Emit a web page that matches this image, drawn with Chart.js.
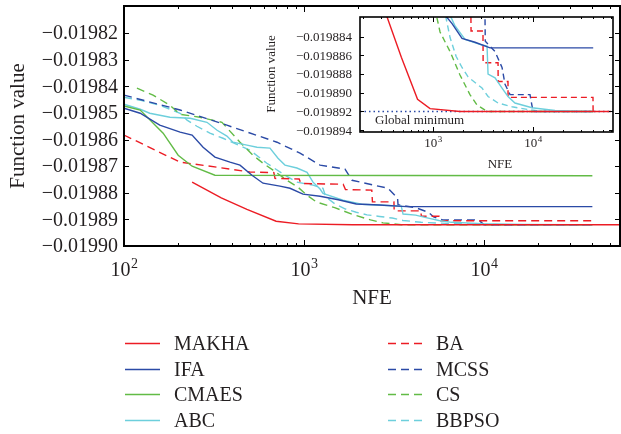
<!DOCTYPE html>
<html>
<head>
<meta charset="utf-8">
<script src="https://cdn.jsdelivr.net/npm/chart.js@4.4.1/dist/chart.umd.min.js"></script>
<style>
  body { margin: 0; background: #fff; }
  #wrap { position: relative; width: 621px; height: 434px; overflow: hidden; }
  #main { position: absolute; left: 0; top: 0; }
  #inset { position: absolute; left: 250px; top: 0; }
  .leg { position: absolute; font: 20px "Liberation Serif", "Times New Roman", serif; color: #231f20; line-height: 20px; }
  .leg svg { position: absolute; left: 0; top: 9px; }
  .leg span { position: absolute; white-space: nowrap; }
</style>
</head>
<body>
<div id="wrap">
  <canvas id="main" width="621" height="434"></canvas>
  <canvas id="inset" width="371" height="180"></canvas>
  <div id="legend"></div>
</div>
<script>
// valeurs : [NFE, valeur de la fonction]
const MAKHA = [[239,-0.019876],[347,-0.0198819],[482,-0.0198862],[700,-0.0198907],[933,-0.0198917],[1860,-0.019892],[60000,-0.019892]];
const IFA = [[100,-0.0198482],[123,-0.0198501],[158,-0.0198546],[205,-0.0198572],[239,-0.0198583],[275,-0.0198629],[320,-0.0198666],[388,-0.0198685],[441,-0.0198696],[514,-0.0198734],[592,-0.0198764],[735,-0.0198775],[836,-0.0198783],[987,-0.0198805],[1228,-0.0198813],[1550,-0.0198826],[1950,-0.0198842],[2630,-0.0198846],[3715,-0.0198852],[40000,-0.0198852]];
const CMAES = [[100,-0.0198474],[123,-0.0198489],[165,-0.0198576],[200,-0.0198659],[239,-0.01987],[320,-0.0198734],[40000,-0.0198736]];
const ABC = [[100,-0.0198467],[123,-0.0198486],[139,-0.0198501],[180,-0.0198516],[233,-0.019852],[289,-0.0198535],[329,-0.0198565],[373,-0.0198587],[403,-0.019861],[482,-0.0198621],[548,-0.0198629],[647,-0.0198632],[717,-0.019867],[784,-0.0198696],[913,-0.0198707],[1040,-0.0198723],[1122,-0.019876],[1228,-0.0198786],[1275,-0.0198802],[1648,-0.0198828],[2090,-0.0198843],[3090,-0.0198849],[3470,-0.019885],[3550,-0.019888],[4170,-0.0198884],[4900,-0.0198895],[5620,-0.0198904],[6600,-0.0198911],[9770,-0.0198916],[16600,-0.0198919],[30900,-0.019892],[40000,-0.019892]];
const BA = [[100,-0.0198583],[205,-0.0198685],[330,-0.0198704],[500,-0.0198722],[680,-0.0198724],[690,-0.0198746],[940,-0.0198748],[960,-0.0198765],[1650,-0.0198768],[1700,-0.0198788],[2380,-0.019879],[2400,-0.0198834],[3160,-0.0198834],[3170,-0.0198868],[4470,-0.0198868],[4480,-0.0198888],[5620,-0.0198888],[5630,-0.0198905],[39800,-0.0198905],[39900,-0.019892]];
const MCSS = [[100,-0.0198433],[205,-0.0198489],[373,-0.0198546],[708,-0.019861],[950,-0.0198651],[1228,-0.0198696],[1690,-0.0198711],[1848,-0.0198753],[2930,-0.0198783],[3310,-0.019882],[3330,-0.0198845],[4170,-0.0198856],[4900,-0.0198873],[5250,-0.0198891],[5890,-0.0198902],[9330,-0.0198902],[10000,-0.019892],[40000,-0.019892]];
const CS = [[118,-0.0198407],[145,-0.0198433],[180,-0.0198471],[205,-0.0198505],[264,-0.0198516],[350,-0.0198535],[441,-0.019861],[521,-0.0198659],[592,-0.0198689],[673,-0.0198715],[805,-0.0198753],[926,-0.0198779],[1040,-0.0198809],[1175,-0.0198835],[1480,-0.0198856],[1860,-0.0198881],[2340,-0.0198902],[2750,-0.0198913],[3470,-0.019892],[40000,-0.019892]];
const BBPSO = [[100,-0.0198441],[123,-0.0198452],[158,-0.0198471],[205,-0.0198501],[224,-0.0198527],[254,-0.019855],[300,-0.0198576],[355,-0.0198595],[501,-0.019864],[622,-0.0198689],[784,-0.0198734],[913,-0.019876],[1122,-0.0198771],[1275,-0.0198783],[1320,-0.0198815],[1480,-0.0198841],[1700,-0.0198861],[1950,-0.0198873],[2240,-0.0198883],[2630,-0.0198889],[3090,-0.0198895],[3550,-0.0198904],[4470,-0.0198911],[6170,-0.0198915],[8910,-0.0198918],[12300,-0.019892],[40000,-0.019892]];
const GLOBAL_MIN = -0.019892;

const mainYTicks = [-0.01990,-0.01989,-0.01988,-0.01987,-0.01986,-0.01985,-0.01984,-0.01983,-0.01982];
const mainXTicks = [2, 3, 4];  // exposants des décades
const insetYTicks = [-0.019894,-0.019892,-0.019890,-0.019888,-0.019886,-0.019884];
const insetXTicks = [3, 4];

const RED = '#ec1c24', BLUE = '#2b4aa6', GREEN = '#62bb46', CYAN = '#6dcfdc';
const series = [
  { nom: 'MAKHA', pts: MAKHA, cor: RED, dash: false },
  { nom: 'IFA', pts: IFA, cor: BLUE, dash: false },
  { nom: 'CMAES', pts: CMAES, cor: GREEN, dash: false },
  { nom: 'ABC', pts: ABC, cor: CYAN, dash: false },
  { nom: 'BA', pts: BA, cor: RED, dash: true },
  { nom: 'MCSS', pts: MCSS, cor: BLUE, dash: true },
  { nom: 'CS', pts: CS, cor: GREEN, dash: true },
  { nom: 'BBPSO', pts: BBPSO, cor: CYAN, dash: true }
];

const FONT = '"Liberation Serif", "Times New Roman", serif';

function criarDatasets(dash) {
  return series.map(s => ({
    label: s.nom,
    data: s.pts.map(p => ({ x: p[0], y: p[1] })),
    borderColor: s.cor,
    borderWidth: 1.4,
    borderDash: s.dash ? dash : [],
    pointRadius: 0,
    tension: 0,
    fill: false
  }));
}

function fmt(v, d) { return v.toFixed(d).replace('-', '\u2212'); }

// cadre, graduations et textes dessinés à partir des échelles
function moldura(cfg) {
  return {
    id: 'moldura',
    beforeDraw(chart) {
      const { ctx, chartArea: a } = chart;
      ctx.save();
      ctx.fillStyle = '#fff';
      ctx.fillRect(a.left, a.top, a.right - a.left, a.bottom - a.top);
      ctx.restore();
    },
    afterDraw(chart) {
      const { ctx, chartArea: a, scales: { x, y } } = chart;
      ctx.save();
      ctx.strokeStyle = '#000';
      ctx.fillStyle = '#231f20';
      ctx.lineWidth = cfg.lw;
      const seg = (x1, y1, x2, y2) => { ctx.beginPath(); ctx.moveTo(x1, y1); ctx.lineTo(x2, y2); ctx.stroke(); };

      ctx.lineWidth = 1;
      cfg.yTicks.forEach(v => {
        const p = Math.round(y.getPixelForValue(v)) + 0.5;
        seg(a.left, p, a.left + cfg.tick, p);
        seg(a.right, p, a.right - cfg.tick, p);
      });
      for (let e = 1; e <= 5; e++) {
        for (let m = 1; m <= 9; m++) {
          const v = m * Math.pow(10, e);
          if (v < x.min || v > x.max) continue;
          const p = Math.round(x.getPixelForValue(v)) + 0.5;
          const len = m === 1 ? cfg.tick + 1 : cfg.minor;
          seg(p, a.bottom, p, a.bottom - len);
          seg(p, a.top, p, a.top + len);
        }
      }
      ctx.lineWidth = cfg.lw;
      ctx.strokeRect(a.left, a.top, a.right - a.left, a.bottom - a.top);

      // rótulos do eixo y
      ctx.font = cfg.fs + 'px ' + FONT;
      ctx.textAlign = 'right';
      ctx.textBaseline = 'middle';
      cfg.yTicks.forEach(v => ctx.fillText(fmt(v, cfg.dec), a.left - cfg.ypad, y.getPixelForValue(v) + 1));

      // rótulos do eixo x : 10 com expoente
      ctx.textBaseline = 'alphabetic';
      ctx.textAlign = 'left';
      cfg.xTicks.forEach(e => {
        const p = x.getPixelForValue(Math.pow(10, e));
        ctx.font = cfg.fs + 'px ' + FONT;
        const w1 = ctx.measureText('10').width;
        ctx.font = Math.round(cfg.fs * 0.68) + 'px ' + FONT;
        const w2 = ctx.measureText(String(e)).width;
        const x0 = p - (w1 + w2) / 2;
        ctx.font = cfg.fs + 'px ' + FONT;
        ctx.fillText('10', x0, cfg.xBase);
        ctx.font = Math.round(cfg.fs * 0.68) + 'px ' + FONT;
        ctx.fillText(String(e), x0 + w1 + 0.5, cfg.xBase - cfg.fs * 0.42);
      });

      // títulos
      ctx.font = cfg.tfs + 'px ' + FONT;
      ctx.textAlign = 'center';
      ctx.fillText('NFE', cfg.nfe[0], cfg.nfe[1]);
      ctx.save();
      ctx.translate(cfg.ytit[0], cfg.ytit[1]);
      ctx.rotate(-Math.PI / 2);
      ctx.textBaseline = 'middle';
      ctx.fillText('Function value', 0, 0);
      ctx.restore();

      if (cfg.gmin) {
        ctx.font = cfg.fs + 'px ' + FONT;
        ctx.textAlign = 'left';
        ctx.fillText('Global minimum', a.left + 15, y.getPixelForValue(GLOBAL_MIN) + 13);
      }
      ctx.restore();
    }
  };
}

function criarGraficoPrincipal() {
  new Chart(document.getElementById('main'), {
    type: 'line',
    data: { datasets: criarDatasets([8, 5]) },
    options: {
      responsive: false,
      animation: false,
      layout: { padding: { left: 124, top: 6, right: 1, bottom: 188 } },
      plugins: { legend: { display: false }, tooltip: { enabled: false } },
      scales: {
        x: { type: 'logarithmic', min: 100, max: 56960, display: false },
        y: { type: 'linear', min: -0.0199, max: -0.0198098, display: false }
      }
    },
    plugins: [moldura({
      lw: 2, tick: 5, minor: 3, fs: 20, tfs: 21, dec: 5, ypad: 6,
      yTicks: mainYTicks, xTicks: mainXTicks, xBase: 276,
      nfe: [372, 304], ytit: [18, 126], gmin: false
    })]
  });
}

function criarInset() {
  const ds = criarDatasets([6, 4]);
  ds.push({
    label: 'Global minimum',
    data: [{ x: 186, y: GLOBAL_MIN }, { x: 63100, y: GLOBAL_MIN }],
    borderColor: BLUE,
    borderWidth: 1.5,
    borderDash: [1.5, 3],
    pointRadius: 0
  });
  new Chart(document.getElementById('inset'), {
    type: 'line',
    data: { datasets: ds },
    options: {
      responsive: false,
      animation: false,
      layout: { padding: { left: 110, top: 17, right: 8, bottom: 48 } },
      plugins: { legend: { display: false }, tooltip: { enabled: false } },
      scales: {
        x: { type: 'logarithmic', min: 186, max: 63100, display: false },
        y: { type: 'linear', min: -0.0198942, max: -0.0198819, display: false }
      }
    },
    plugins: [moldura({
      lw: 1.6, tick: 4, minor: 2, fs: 13, tfs: 13, dec: 6, ypad: 8,
      yTicks: insetYTicks, xTicks: insetXTicks, xBase: 147,
      nfe: [250, 168], ytit: [22, 74], gmin: true
    })]
  });
}

// legenda em duas colunas
function criarLegenda() {
  const box = document.getElementById('legend');
  const linhas = [343, 369, 394, 420];
  series.forEach((s, i) => {
    const col = i < 4 ? 0 : 1;
    const left = col === 0 ? 125 : 388;
    const txt = col === 0 ? 49 : 48;
    const d = document.createElement('div');
    d.className = 'leg';
    d.style.left = left + 'px';
    d.style.top = (linhas[i % 4] - 10) + 'px';
    d.innerHTML = `<svg width="36" height="3"><line x1="0" y1="1.5" x2="35" y2="1.5" stroke="${s.cor}" stroke-width="1.5" ${s.dash ? 'stroke-dasharray="8,5"' : ''}/></svg><span style="left:${txt}px">${s.nom}</span>`;
    box.appendChild(d);
  });
}

window.onload = () => {
  criarGraficoPrincipal();
  criarInset();
  criarLegenda();
};
</script>
</body>
</html>
